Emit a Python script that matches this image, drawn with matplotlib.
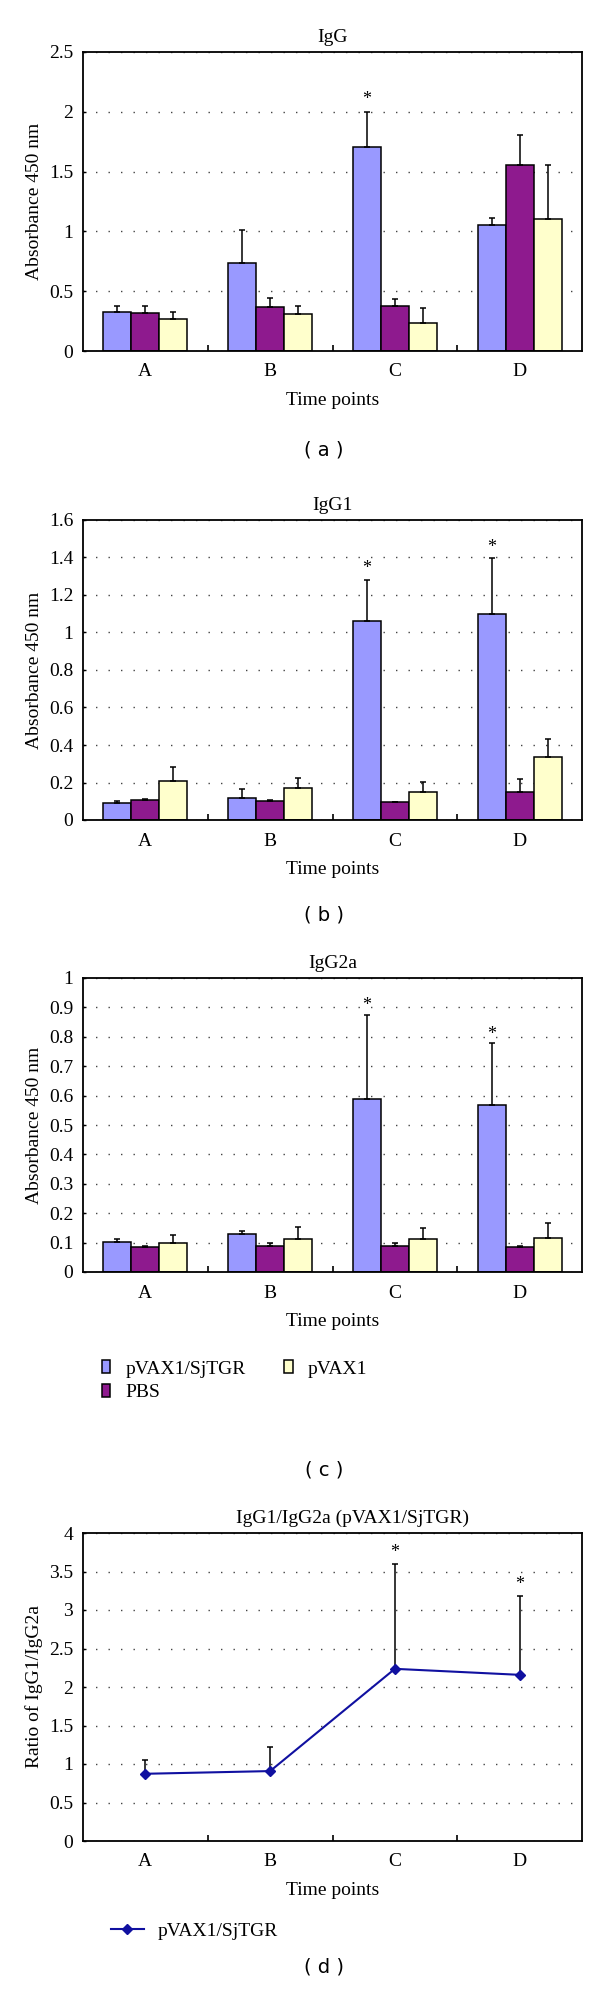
import numpy as np
import matplotlib
matplotlib.use("Agg")
import matplotlib.pyplot as plt
from matplotlib.ticker import MultipleLocator, FixedLocator

plt.rcParams['font.family'] = ['Liberation Serif', 'DejaVu Serif']

# data
time_points = ["A", "B", "C", "D"]
groups = ["pVAX1/SjTGR", "PBS", "pVAX1"]
colors = ["#9999FF", "#8E1A8E", "#FFFFCC"]

igg = [[0.326, 0.739, 1.706, 1.057],
       [0.318, 0.365, 0.374, 1.553],
       [0.268, 0.307, 0.234, 1.104]]
igg_top = [[0.376, 1.009, 1.996, 1.115],
           [0.376, 0.446, 0.432, 1.807],
           [0.326, 0.376, 0.362, 1.553]]
igg_star = [None, None, 2.10, None]

igg1 = [[0.089, 0.119, 1.061, 1.097],
        [0.105, 0.103, 0.094, 0.148],
        [0.208, 0.171, 0.148, 0.334]]
igg1_top = [[0.103, 0.164, 1.278, 1.397],
            [0.112, 0.105, 0.094, 0.217],
            [0.283, 0.224, 0.201, 0.432]]
igg1_star = [None, None, 1.34, 1.455]

igg2a = [[0.102, 0.130, 0.588, 0.569],
         [0.084, 0.088, 0.088, 0.084],
         [0.098, 0.112, 0.112, 0.117]]
igg2a_top = [[0.112, 0.141, 0.874, 0.780],
             [0.088, 0.099, 0.099, 0.088],
             [0.127, 0.154, 0.149, 0.168]]
igg2a_star = [None, None, 0.905, 0.808]

ratio = [0.873, 0.908, 2.236, 2.158]
ratio_top = [1.055, 1.215, 3.602, 3.187]
ratio_star = [None, None, 3.75, 3.33]

FS = 14
W, H = 600, 2013
fig = plt.figure(figsize=(W / 100, H / 100), dpi=100)


def axes_box(top, bottom, left=83, right=582):
    return [left / W, 1 - bottom / H, (right - left) / W, (bottom - top) / H]


def style_axes(ax, ymax, ystep, ylabel):
    ax.set_xlim(-0.5, 3.5)
    ax.set_ylim(0, ymax)
    ax.yaxis.set_major_locator(MultipleLocator(ystep))
    ax.set_yticklabels([("%g" % v) for v in ax.get_yticks()])
    ax.set_xticks(range(4))
    ax.set_xticklabels(time_points)
    ax.xaxis.set_minor_locator(FixedLocator([0.5, 1.5, 2.5]))
    ax.tick_params(axis='x', which='major', length=0, labelsize=FS, pad=9)
    ax.tick_params(axis='x', which='minor', direction='in', length=4.5, width=1.2)
    ax.tick_params(axis='y', which='major', direction='in', length=2.5, width=1,
                   labelsize=FS, pad=7)
    ax.yaxis.grid(True, linestyle=(0, (1, 8)), color='#444444', linewidth=1)
    ax.set_axisbelow(True)
    for s in ax.spines.values():
        s.set_linewidth(1.3)
    ax.set_ylabel(ylabel, fontsize=FS, labelpad=4)
    ax.set_xlabel("Time points", fontsize=FS, labelpad=8)


def bar_panel(box, vals, tops, stars, ymax, ystep, title):
    ax = fig.add_axes(box)
    x = np.arange(4)
    w = 0.225
    for i in range(3):
        xs = x + (i - 1) * w
        v = np.array(vals[i])
        t = np.array(tops[i])
        ax.bar(xs, v, w, color=colors[i], edgecolor='black', linewidth=1.1,
               label=groups[i], zorder=2)
        ax.errorbar(xs, v, yerr=[np.zeros(4), t - v], fmt='none', ecolor='black',
                    elinewidth=1.1, capsize=2.5, capthick=1.1, zorder=3)
    for j, s in enumerate(stars):
        if s is not None:
            ax.text(x[j] - w, s, "*", ha='center', va='center', fontsize=13)
    style_axes(ax, ymax, ystep, "Absorbance 450 nm")
    ax.set_title(title, fontsize=FS, pad=7)
    return ax


bar_panel(axes_box(52, 351), igg, igg_top, igg_star, 2.5, 0.5, "IgG")
bar_panel(axes_box(520, 820), igg1, igg1_top, igg1_star, 1.6, 0.2, "IgG1")
ax3 = bar_panel(axes_box(978, 1272), igg2a, igg2a_top, igg2a_star, 1.0, 0.1, "IgG2a")

ax3.legend(loc='upper left', bbox_to_anchor=(84 / W, 1 - 1343 / H),
           bbox_transform=fig.transFigure, ncol=2, frameon=False,
           fontsize=FS, handlelength=0.42, handleheight=0.65,
           columnspacing=2.0, handletextpad=0.8, labelspacing=0.3,
           borderpad=0.4)

# ratio panel
ax4 = fig.add_axes(axes_box(1533, 1841))
x = np.arange(4)
r = np.array(ratio)
ax4.errorbar(x, r, yerr=[np.zeros(4), np.array(ratio_top) - r], fmt='none',
             ecolor='black', elinewidth=1.1, capsize=2.5, capthick=1.1, zorder=2)
ax4.plot(x, r, color='#1010A0', linewidth=1.5, marker='D', markersize=5.5,
         label="pVAX1/SjTGR", zorder=3)
for j, s in enumerate(ratio_star):
    if s is not None:
        ax4.text(x[j], s, "*", ha='center', va='center', fontsize=13)
style_axes(ax4, 4, 0.5, "Ratio of IgG1/IgG2a")
ax4.set_title("IgG1/IgG2a (pVAX1/SjTGR)", fontsize=FS, pad=7, x=0.54)
ax4.legend(loc='upper left', bbox_to_anchor=(93 / W, 1 - 1905 / H),
           bbox_transform=fig.transFigure, frameon=False, fontsize=FS,
           handlelength=1.7, handletextpad=0.7)

# panel captions
for lab, y in [("( a )", 450), ("( b )", 915), ("( c )", 1470), ("( d )", 1967)]:
    fig.text(324 / W, 1 - y / H, lab, ha='center', va='center', fontsize=14,
             family=['DejaVu Sans'])

fig.savefig("out.png", dpi=100)
